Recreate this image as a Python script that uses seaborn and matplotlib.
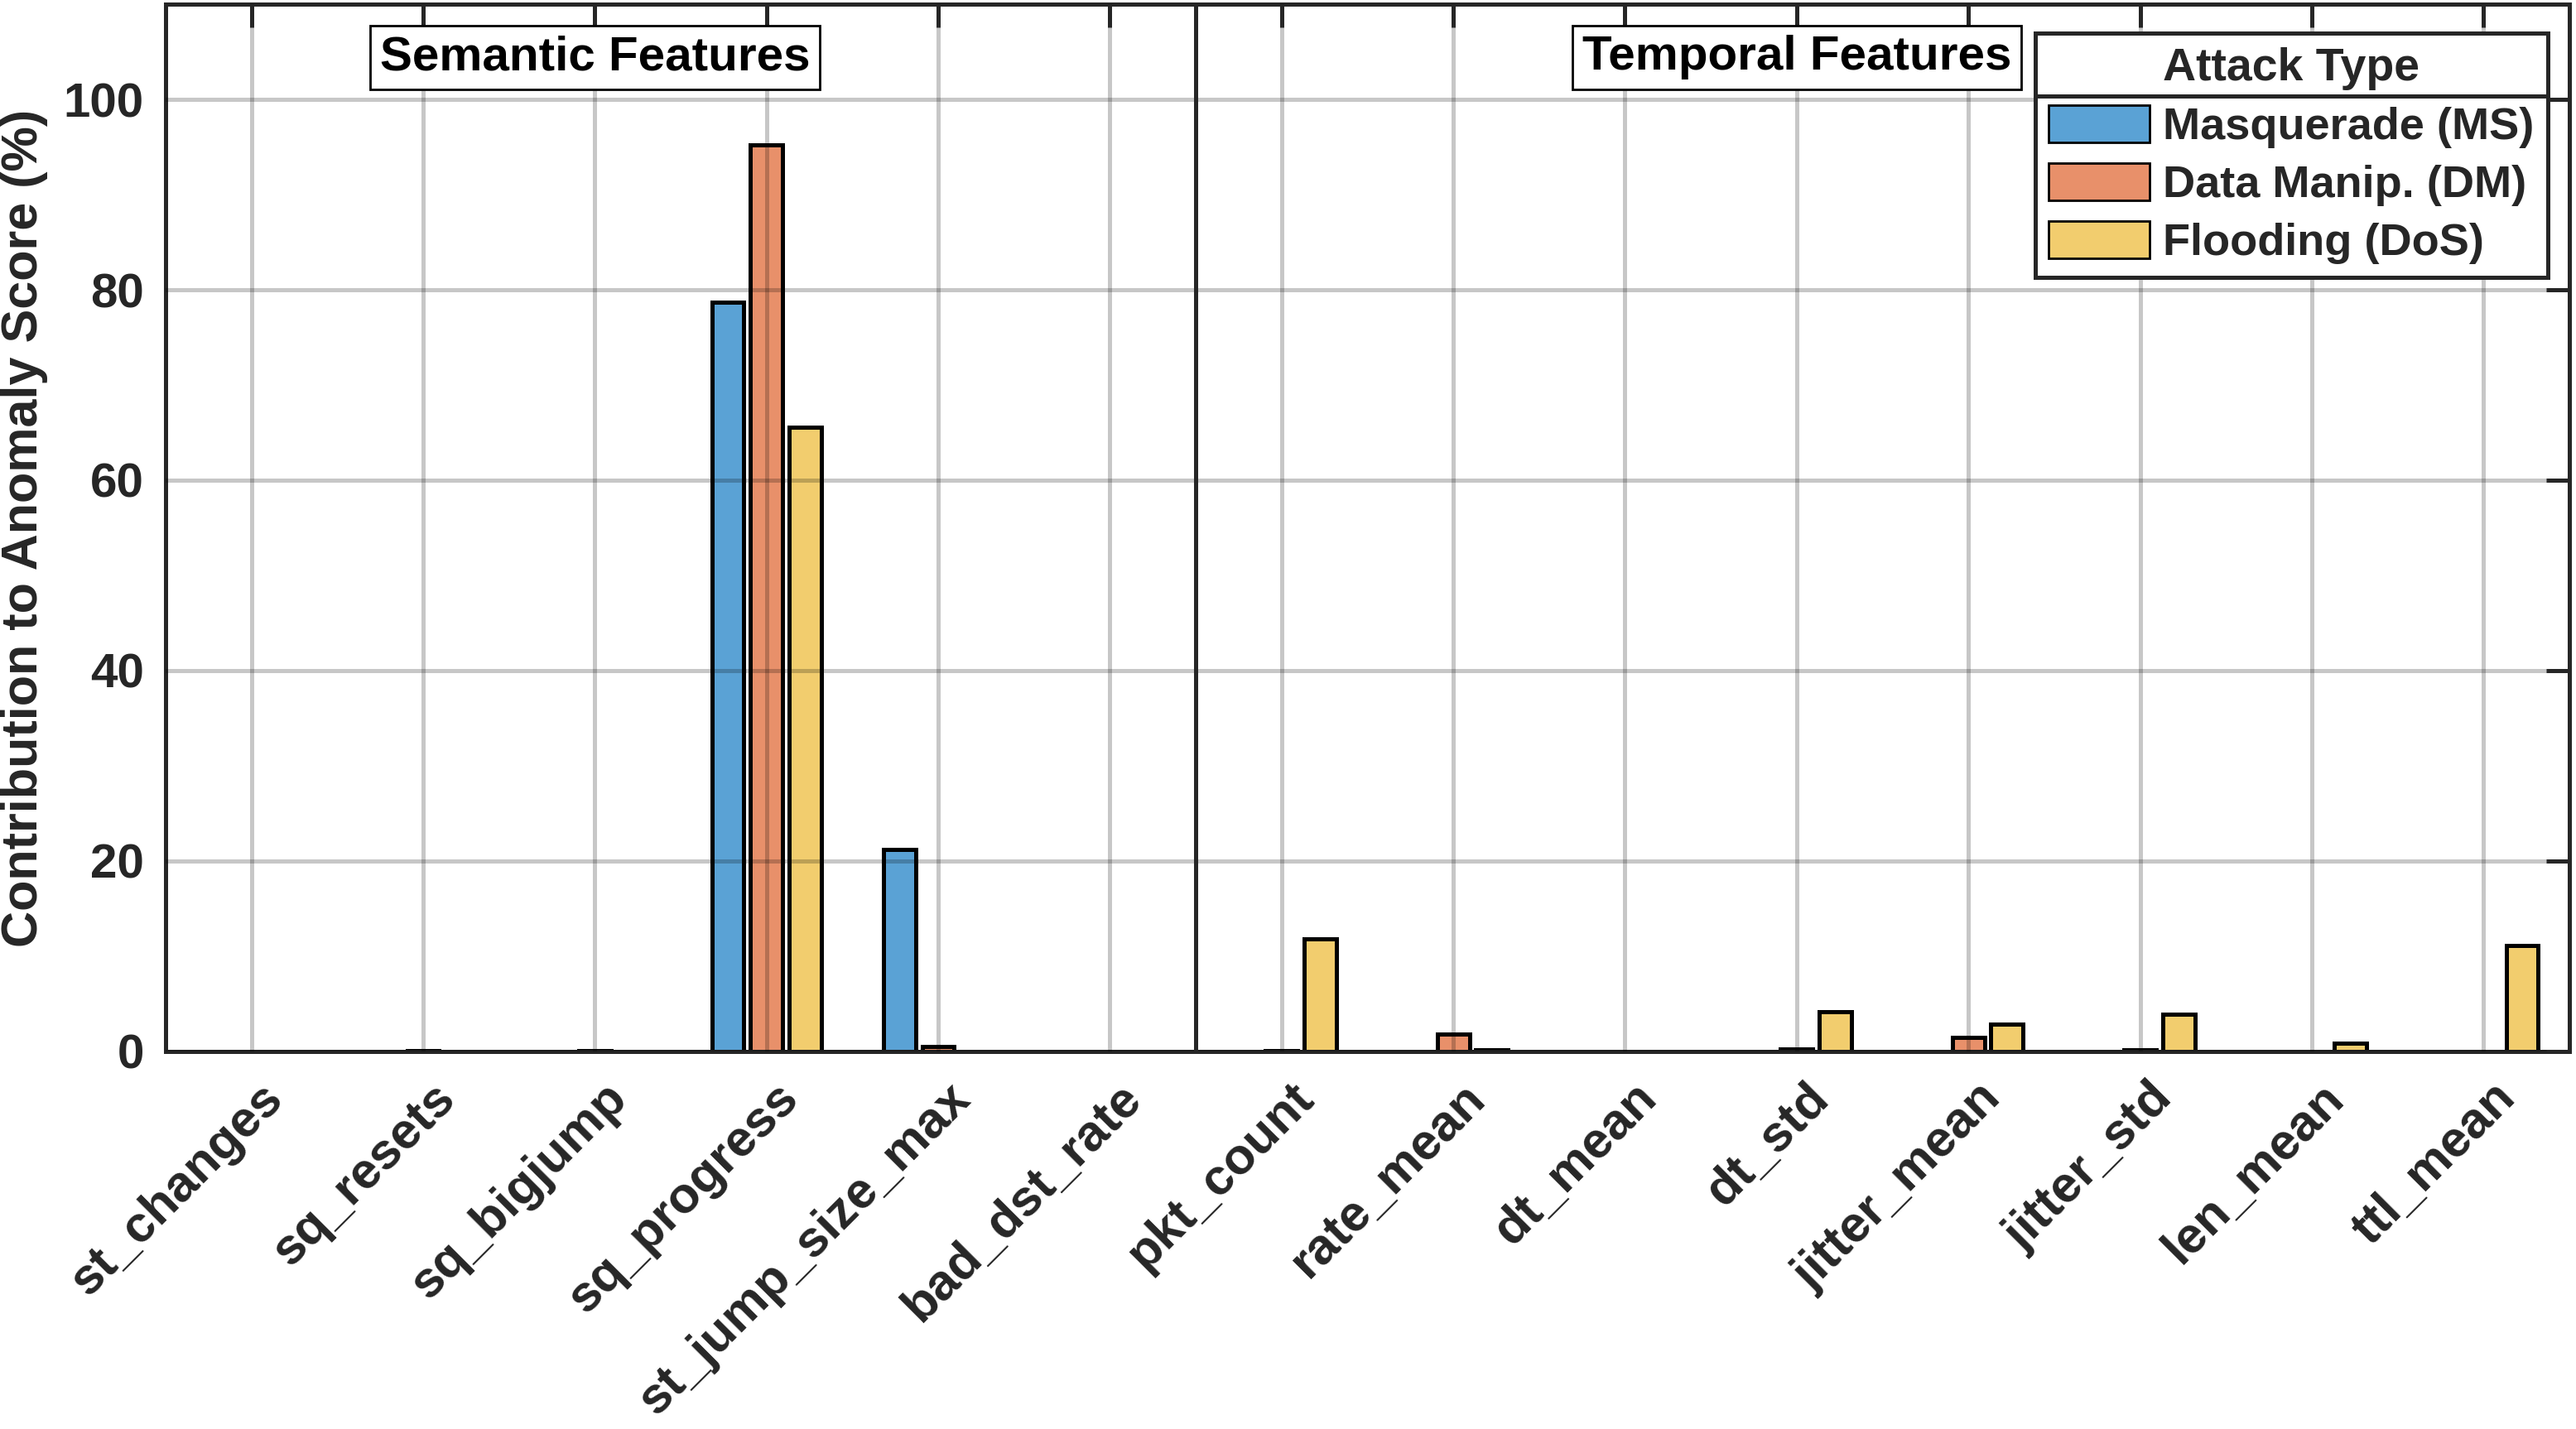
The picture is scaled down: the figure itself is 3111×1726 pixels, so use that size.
import matplotlib
matplotlib.use("Agg")
import matplotlib.pyplot as plt
import matplotlib.transforms as mtransforms
import seaborn as sns
import pandas as pd
from matplotlib.patches import Patch
from matplotlib.lines import Line2D

# ---------------------------------------------------------------------------
# Data (contribution of each feature to the anomaly score, %)
# ---------------------------------------------------------------------------
features = ["st_changes", "sq_resets", "sq_bigjump", "sq_progress",
            "st_jump_size_max", "bad_dst_rate", "pkt_count", "rate_mean",
            "dt_mean", "dt_std", "jitter_mean", "jitter_std", "len_mean",
            "ttl_mean"]
attacks = ["Masquerade (MS)", "Data Manip. (DM)", "Flooding (DoS)"]

ms_vals = [0.0, 0.0, 0.0, 78.7, 21.2, 0.0, 0.0, 0.0, 0.0, 0.0, 0.0, 0.0, 0.0, 0.0]
dm_vals = [0.0, 0.1, 0.1, 95.2, 0.5, 0.0, 0.1, 1.8, 0.0, 0.3, 1.5, 0.2, 0.0, 0.0]
dos_vals = [0.0, 0.0, 0.0, 65.6, 0.0, 0.0, 11.8, 0.2, 0.0, 4.2, 2.9, 3.9, 0.9, 11.1]

colors = ["#5AA2D5", "#E8906A", "#F2CD6E"]
dark = "#262626"

# long format for seaborn
df = pd.DataFrame({
    "feature": features * 3,
    "attack": [attacks[0]] * len(features) + [attacks[1]] * len(features)
              + [attacks[2]] * len(features),
    "value": ms_vals + dm_vals + dos_vals,
})

sns.set_theme(style="white")
plt.rcParams["font.family"] = ["Liberation Sans", "DejaVu Sans"]
plt.rcParams["font.weight"] = "bold"

fig = plt.figure(figsize=(15.555, 8.63), dpi=200)
ax = fig.add_axes([0.0643, 0.2642, 0.9331, 0.7329])

sns.barplot(data=df, x="feature", y="value", hue="attack", order=features,
            hue_order=attacks, palette=colors, width=0.675, gap=0.17,
            errorbar=None, edgecolor="black", linewidth=1.8, saturation=1,
            legend=False, ax=ax)

ax.set_xlim(-0.5, len(features) - 0.5)
ax.set_ylim(0, 110)
ax.set_yticks([0, 20, 40, 60, 80, 100])

# MATLAB-like box, grid on top, inward ticks
ax.set_axisbelow(False)
ax.grid(True, color="black", alpha=0.22, linewidth=1.8)
for s in ax.spines.values():
    s.set_color(dark)
    s.set_linewidth(1.8)
ax.tick_params(direction="in", length=10, width=1.8, color=dark,
               top=True, right=True, labelcolor=dark)
ax.tick_params(axis="x", pad=10, labelsize=22)
ax.tick_params(axis="y", pad=9.5, labelsize=21)

shift = mtransforms.ScaledTranslation(0.05, 0, fig.dpi_scale_trans)
for lbl in ax.get_xticklabels():
    lbl.set_rotation(45)
    lbl.set_ha("right")
    lbl.set_va("top")
    lbl.set_rotation_mode("anchor")
    lbl.set_fontweight("bold")
    lbl.set_transform(lbl.get_transform() + shift)
for lbl in ax.get_yticklabels():
    lbl.set_fontweight("bold")

ax.set_xlabel("")
ax.set_ylabel("Contribution to Anomaly Score (%)", fontsize=22,
              fontweight="bold", color=dark)
ax.yaxis.set_label_coords(-0.049, 0.5)

# split between the two feature groups
ax.axvline(5.5, color=dark, linewidth=1.8, zorder=5)

box = dict(boxstyle="square,pad=0.2", facecolor="white", edgecolor="black",
           linewidth=1.0)
ax.text(2, 104.4, "Semantic Features", ha="center", va="center",
        fontsize=21, fontweight="bold", color="black", bbox=box, zorder=6)
ax.text(9, 104.4, "Temporal Features", ha="center", va="center",
        fontsize=21, fontweight="bold", color="black", bbox=box, zorder=6)

handles = [Patch(facecolor=c, edgecolor="black", linewidth=1.0) for c in colors]
leg = ax.legend(handles, attacks, title="Attack Type", loc="upper right",
                bbox_to_anchor=(0.991, 0.972), borderaxespad=0,
                title_fontproperties={"weight": "bold", "size": 20},
                prop={"weight": "bold", "size": 19.5},
                fancybox=False, framealpha=1, handlelength=2.25,
                handleheight=0.9, handletextpad=0.3, labelspacing=0.33,
                borderpad=0.3)
leg.get_frame().set_edgecolor(dark)
leg.get_frame().set_linewidth(1.8)
leg.set_zorder(10)

# separator line under the legend title
fig.canvas.draw()
inv = fig.transFigure.inverted()
lb = leg.get_window_extent()
tb = leg.get_title().get_window_extent()
y_sep = tb.y0 - 7
(x0, ys), (x1, _) = inv.transform([(lb.x0, y_sep), (lb.x1, y_sep)])
fig.add_artist(Line2D([x0, x1], [ys, ys], color=dark, linewidth=1.8,
                      transform=fig.transFigure, zorder=11))

fig.savefig("out.png", dpi=200)
